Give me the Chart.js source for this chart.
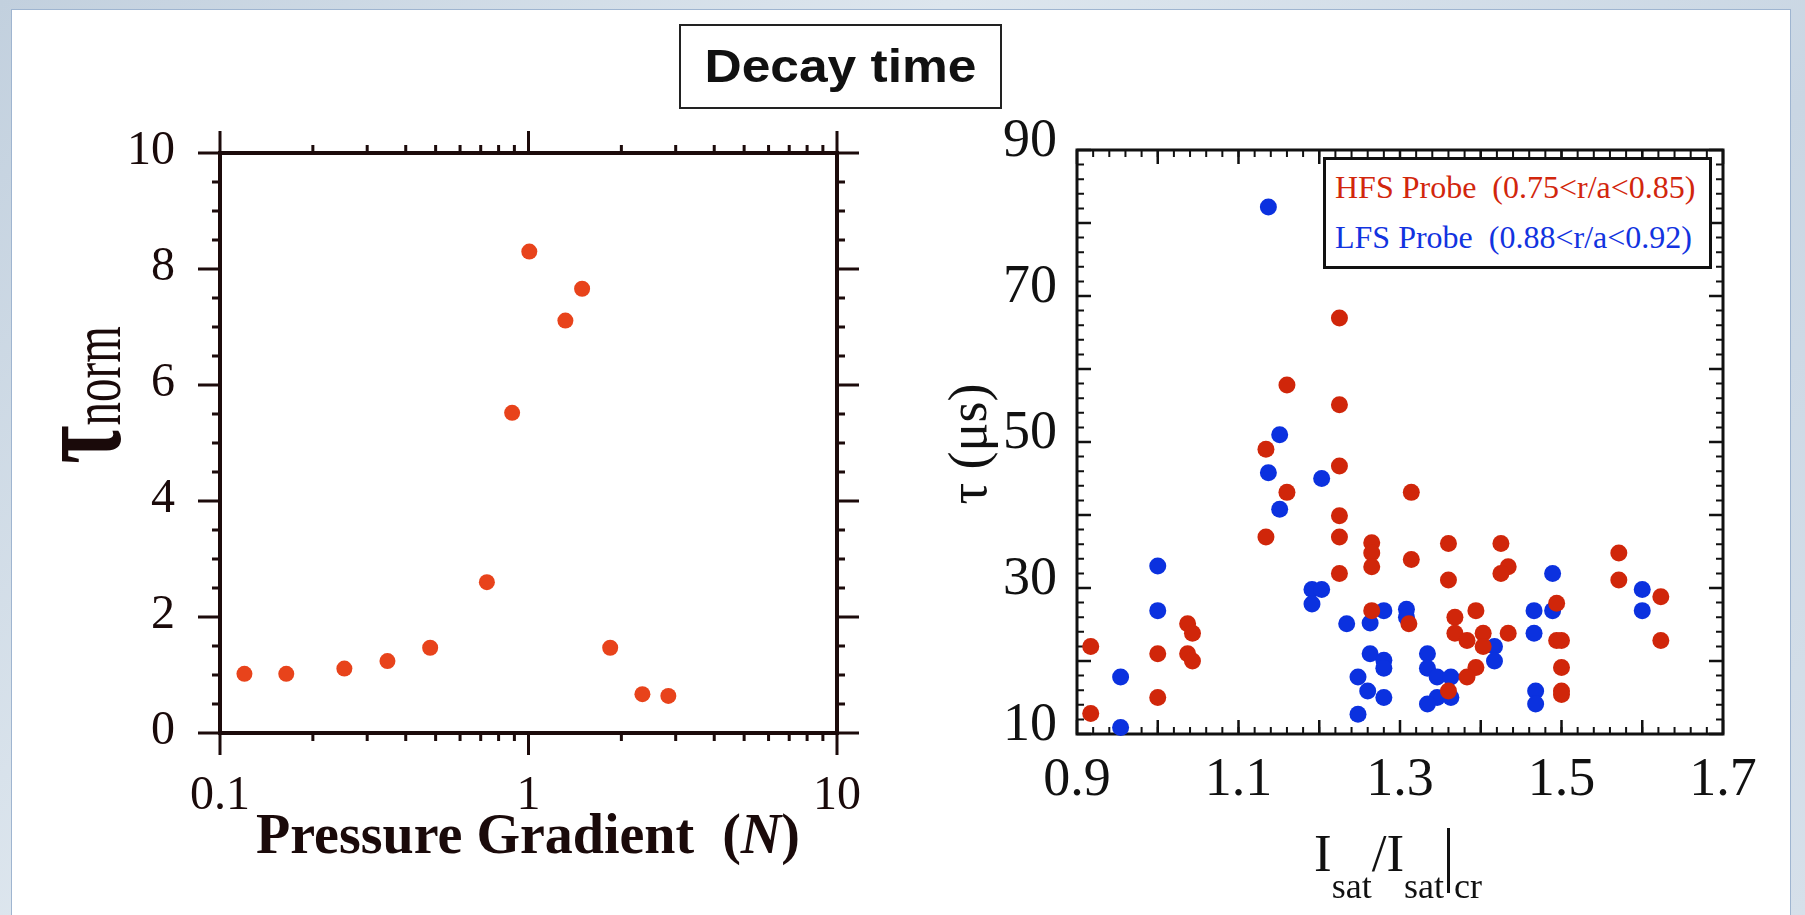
<!DOCTYPE html>
<html>
<head>
<meta charset="utf-8">
<title>Decay time</title>
<script src="https://cdn.jsdelivr.net/npm/chart.js@4.4.0/dist/chart.umd.min.js"></script>
<style>
  html, body { margin: 0; padding: 0; }
  body {
    width: 1805px; height: 915px; position: relative; overflow: hidden;
    background: linear-gradient(135deg, #c2d0de 0%, #dde6ee 35%, #c9d6e3 70%, #d6e0ea 100%);
    font-family: "Liberation Serif", "Times New Roman", serif;
    color: #111;
  }
  #panel {
    position: absolute; left: 11px; top: 9px; right: 14px; bottom: -2px;
    background: #fff; border: 1px solid #9fb5d0;
  }
  canvas { position: absolute; top: 0; }
  #leftChart { left: 0; }
  #rightChart { left: 900px; }
  .txt { position: absolute; white-space: pre; }
  #title {
    left: 679px; top: 24px; width: 319px; height: 81px;
    border: 2px solid #222; background: #fff; text-align: center;
    font: bold 46px/81px "Liberation Sans", Arial, sans-serif;
  }
  #title span { display: inline-block; transform: scaleX(1.12); }
  #leftY {
    left: -63px; top: 344px; width: 300px; height: 102px;
    font-size: 47px; line-height: 90px; text-align: center; color: #1a0a0a;
    transform: rotate(-90deg) scaleY(1.5);
  }
  #leftY b { font-size: 83px; }
  #leftX {
    left: 228px; top: 806px; width: 600px; line-height: 56px; text-align: center;
    font-size: 56px; font-weight: bold; color: #1a0a0a;
  }
  #rightY {
    left: 818px; top: 414px; width: 300px; height: 60px; line-height: 60px;
    text-align: center; font-size: 54px; transform: rotate(-90deg);
  }
  #rightX { left: 1314px; top: 806px; font-size: 53px; line-height: 53px; }
  #rightX .sb { font-size: 36px; line-height: 0; position: relative; top: 27px; }
  #rightX .bar {
    display: inline-block; width: 3px; height: 65px; background: #111;
    position: relative; top: 22px; margin: 0 4px 0 3px;
  }
  #legend {
    left: 1323px; top: 157px; width: 383px; height: 106px;
    border: 3px solid #111; background: #fff;
  }
  .legLine { position: absolute; font-size: 32px; line-height: 32px; white-space: pre; }
</style>
</head>
<body>
<div id="panel"></div>
<canvas id="leftChart" width="900" height="915"></canvas>
<canvas id="rightChart" width="905" height="915"></canvas>

<div id="title" class="txt"><span>Decay time</span></div>
<div id="leftY" class="txt"><b>τ</b>norm</div>
<div id="leftX" class="txt">Pressure Gradient  (<i>N</i>)</div>
<div id="rightY" class="txt">τ (μs)</div>
<div id="rightX" class="txt">I<span class="sb">sat</span>/I<span class="sb">sat</span><span class="bar"></span><span class="sb">cr</span></div>
<div id="legend" class="txt"></div>
<div class="legLine" style="left:1335px; top:171px; color:#d2260c;">HFS Probe  (0.75&lt;r/a&lt;0.85)</div>
<div class="legLine" style="left:1335px; top:221px; color:#1233e0;">LFS Probe  (0.88&lt;r/a&lt;0.92)</div>

<script>
// left panel: normalised decay time vs pressure gradient
const pressureN = [0.12, 0.164, 0.253, 0.349, 0.48, 0.733, 0.885, 1.006, 1.317, 1.492, 1.84, 2.34, 2.84];
const tauNorm = [1.02, 1.02, 1.11, 1.24, 1.47, 2.6, 5.52, 8.3, 7.11, 7.66, 1.47, 0.67, 0.64];

// right panel: decay time vs Isat/Isat|cr
const hfsIsat = [1.225, 1.160, 1.225, 1.134, 1.225, 1.160, 1.314, 1.225, 1.134, 1.225,
  1.265, 1.265, 1.265, 1.225, 1.314, 1.360, 1.360, 1.425, 1.434, 1.425,
  1.571, 1.571, 1.623, 1.623, 1.265, 1.311, 1.368, 1.368, 1.394, 1.383,
  1.403, 1.403, 1.434, 1.394, 1.383, 1.360, 1.494, 1.494, 1.500, 1.500,
  1.500, 1.500, 0.917, 0.917, 1.000, 1.000, 1.037, 1.043, 1.037, 1.043];
const hfsTau = [67.0, 57.8, 55.1, 49.0, 46.7, 43.1, 43.1, 39.9, 37.0, 37.0,
  36.2, 34.8, 32.9, 32.0, 33.9, 36.1, 31.1, 36.1, 32.9, 32.0,
  34.8, 31.1, 28.8, 22.8, 26.9, 25.1, 26.0, 23.8, 26.9, 22.8,
  23.8, 22.0, 23.8, 19.1, 17.8, 15.9, 27.9, 22.8, 22.8, 19.1,
  15.9, 15.4, 22.0, 12.8, 21.0, 15.0, 25.1, 23.8, 21.0, 20.0];
const lfsIsat = [1.137, 1.151, 1.137, 1.203, 1.151, 1.000, 1.000, 1.191, 1.203, 1.191,
  1.234, 1.263, 1.280, 1.308, 1.308, 0.954, 0.954, 1.263, 1.280, 1.280,
  1.248, 1.260, 1.280, 1.248, 1.334, 1.334, 1.346, 1.363, 1.346, 1.363,
  1.334, 1.417, 1.417, 1.466, 1.489, 1.489, 1.466, 1.468, 1.468, 1.600,
  1.600];
const lfsTau = [82.2, 51.0, 45.8, 45.0, 40.8, 33.0, 26.9, 29.8, 29.8, 27.8,
  25.1, 25.2, 26.9, 27.1, 26.0, 17.8, 10.9, 21.0, 20.1, 19.0,
  17.8, 15.9, 15.0, 12.7, 21.0, 19.0, 17.8, 17.8, 15.0, 15.0,
  14.1, 22.0, 20.0, 26.9, 26.9, 32.0, 23.8, 15.9, 14.1, 29.8,
  26.9];

// tick labels
const leftXTicks = [0.1, 1, 10];
const leftYTicks = [0, 2, 4, 6, 8, 10];
const rightXTicks = [0.9, 1.1, 1.3, 1.5, 1.7];
const rightYTicks = [10, 30, 50, 70, 90];

// tick marks (major / minor positions)
const leftXMinor = [0.2, 0.3, 0.4, 0.5, 0.6, 0.7, 0.8, 0.9, 2, 3, 4, 5, 6, 7, 8, 9];
const leftYMinor = [0.5, 1, 1.5, 2.5, 3, 3.5, 4.5, 5, 5.5, 6.5, 7, 7.5, 8.5, 9, 9.5];
const rightXMajor = [0.9, 1.0, 1.1, 1.2, 1.3, 1.4, 1.5, 1.6, 1.7];
const rightYMajor = [10, 20, 30, 40, 50, 60, 70, 80, 90];

function steps(from, to, step) {
  const out = [];
  for (let v = from; v <= to + 1e-9; v += step) out.push(+v.toFixed(4));
  return out;
}
const rightXMinor = steps(0.9, 1.7, 0.02);
const rightYMinor = steps(10, 90, 2);

const toXY = (xs, ys) => xs.map((x, i) => ({ x: x, y: ys[i] }));

// draws the closed frame and major/minor tick marks on all four sides
const framePlugin = {
  id: "frame",
  beforeDatasetsDraw(chart, args, o) {
    const { ctx, chartArea: a, scales } = chart;
    const sx = scales.x, sy = scales.y;
    const s = o.outward ? 1 : -1;
    ctx.save();
    ctx.strokeStyle = o.color;
    ctx.lineCap = "butt";

    const marks = (vals, len) => {
      ctx.beginPath();
      vals.forEach((v) => {
        const px = sx.getPixelForValue(v);
        if (px < a.left - 1 || px > a.right + 1) return;
        ctx.moveTo(px, a.bottom); ctx.lineTo(px, a.bottom + s * len);
        ctx.moveTo(px, a.top); ctx.lineTo(px, a.top - s * len);
      });
      ctx.stroke();
    };
    const marksY = (vals, len) => {
      ctx.beginPath();
      vals.forEach((v) => {
        const py = sy.getPixelForValue(v);
        if (py < a.top - 1 || py > a.bottom + 1) return;
        ctx.moveTo(a.left, py); ctx.lineTo(a.left - s * len, py);
        ctx.moveTo(a.right, py); ctx.lineTo(a.right + s * len, py);
      });
      ctx.stroke();
    };

    ctx.lineWidth = o.tickWidth;
    marks(o.xMinor, o.minorLen);
    marksY(o.yMinor, o.minorLen);
    ctx.lineWidth = o.majorWidth;
    marks(o.xMajor, o.majorLen);
    marksY(o.yMajor, o.majorLen);

    ctx.lineWidth = o.lineWidth;
    ctx.strokeRect(a.left, a.top, a.right - a.left, a.bottom - a.top);
    ctx.restore();
  },
};

const serif = "'Liberation Serif', 'Times New Roman', serif";

new Chart(document.getElementById("leftChart"), {
  type: "scatter",
  data: {
    datasets: [{
      data: toXY(pressureN, tauNorm),
      backgroundColor: "#e8431b",
      borderWidth: 0,
      pointRadius: 8,
      clip: false,
    }],
  },
  options: {
    responsive: false,
    animation: false,
    layout: { padding: { left: 0, top: 153, right: 63, bottom: 82 } },
    plugins: {
      legend: { display: false },
      tooltip: { enabled: false },
      frame: {
        outward: true, color: "#1c0b0b", lineWidth: 4, tickWidth: 3, majorWidth: 3,
        majorLen: 22, minorLen: 8,
        xMajor: leftXTicks, xMinor: leftXMinor, yMajor: leftYTicks, yMinor: leftYMinor,
      },
    },
    scales: {
      x: {
        type: "logarithmic", min: 0.1, max: 10,
        grid: { display: false }, border: { display: false },
        afterBuildTicks: (sc) => { sc.ticks = leftXTicks.map((v) => ({ value: v })); },
        afterFit: (sc) => { sc.height = 100; },
        ticks: {
          padding: 27, color: "#1a0a0a", maxRotation: 0,
          font: { family: serif, size: 48 },
          callback: (v) => String(v),
        },
      },
      y: {
        type: "linear", min: 0, max: 10,
        grid: { display: false }, border: { display: false },
        afterBuildTicks: (sc) => { sc.ticks = leftYTicks.map((v) => ({ value: v })); },
        afterFit: (sc) => { sc.width = 220; },
        ticks: {
          padding: 37, labelOffset: -2, color: "#1a0a0a",
          font: { family: serif, size: 48 },
          callback: (v) => String(v),
        },
      },
    },
  },
  plugins: [framePlugin],
});

new Chart(document.getElementById("rightChart"), {
  type: "scatter",
  data: {
    datasets: [
      {
        label: "HFS Probe (0.75<r/a<0.85)",
        data: toXY(hfsIsat, hfsTau),
        backgroundColor: "#d0260a",
        borderWidth: 0,
        pointRadius: 8.5,
        clip: false,
      },
      {
        label: "LFS Probe (0.88<r/a<0.92)",
        data: toXY(lfsIsat, lfsTau),
        backgroundColor: "#0b31df",
        borderWidth: 0,
        pointRadius: 8.5,
        clip: false,
      },
    ],
  },
  options: {
    responsive: false,
    animation: false,
    layout: { padding: { left: 0, top: 150, right: 82, bottom: 81 } },
    plugins: {
      legend: { display: false },
      tooltip: { enabled: false },
      frame: {
        outward: false, color: "#111", lineWidth: 3, tickWidth: 2, majorWidth: 2.5,
        majorLen: 14, minorLen: 7,
        xMajor: rightXMajor, xMinor: rightXMinor, yMajor: rightYMajor, yMinor: rightYMinor,
      },
    },
    scales: {
      x: {
        type: "linear", min: 0.9, max: 1.7,
        grid: { display: false }, border: { display: false },
        afterBuildTicks: (sc) => { sc.ticks = rightXTicks.map((v) => ({ value: v })); },
        afterFit: (sc) => { sc.height = 100; },
        ticks: {
          padding: 6, color: "#111", maxRotation: 0,
          font: { family: serif, size: 54 },
          callback: (v) => v.toFixed(1),
        },
      },
      y: {
        type: "linear", min: 10, max: 90,
        grid: { display: false }, border: { display: false },
        afterBuildTicks: (sc) => { sc.ticks = rightYTicks.map((v) => ({ value: v })); },
        afterFit: (sc) => { sc.width = 177; },
        ticks: {
          padding: 12, labelOffset: -8, color: "#111",
          font: { family: serif, size: 54 },
          callback: (v) => String(v),
        },
      },
    },
  },
  plugins: [framePlugin],
});
</script>
</body>
</html>
